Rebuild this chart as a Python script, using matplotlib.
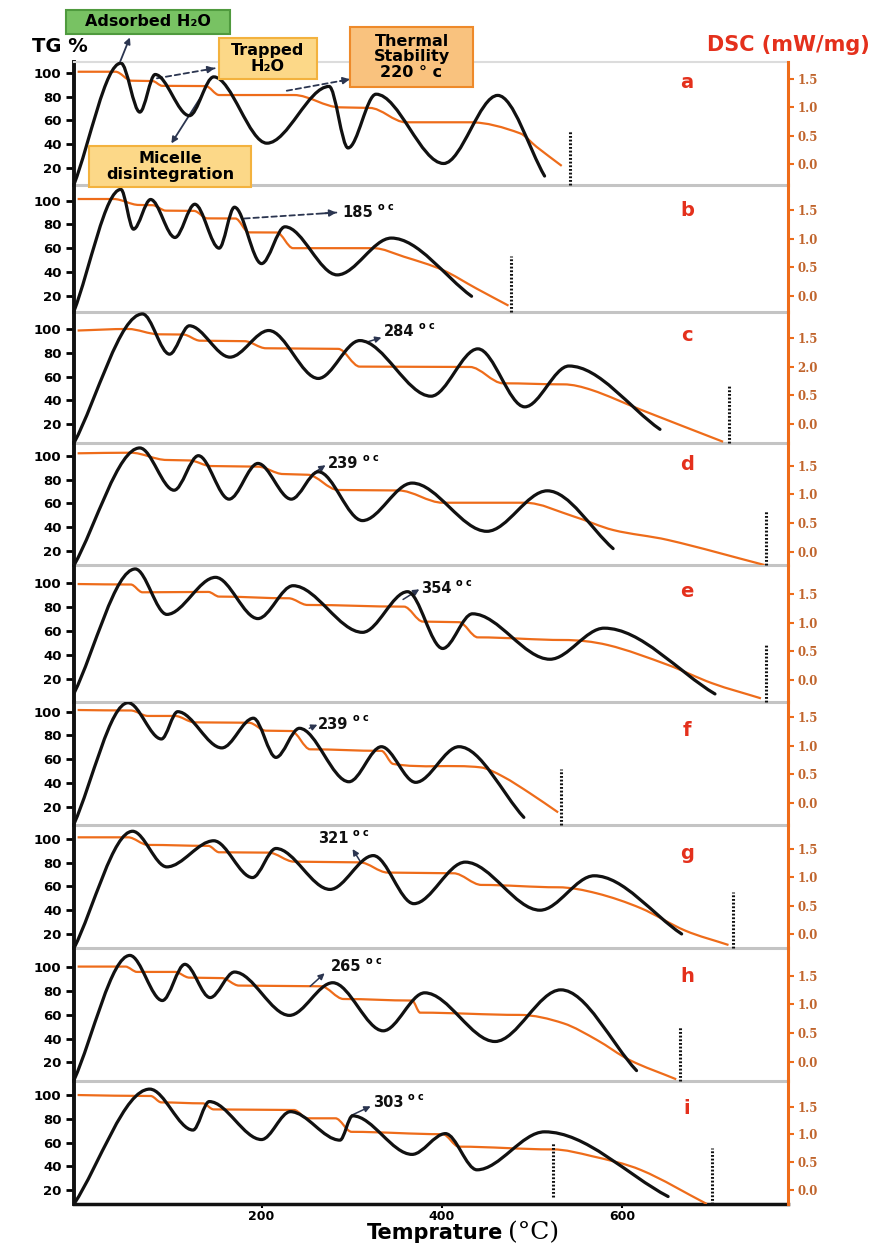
import matplotlib
matplotlib.use('Agg')
import matplotlib.pyplot as plt
from matplotlib.path import Path
from matplotlib.patches import PathPatch, Rectangle

# TG curves (black): temperature (°C) / TG (%) at start, peaks, troughs and end
tg_x_a = [-8, 44, 65, 82, 120, 147, 206, 275, 296, 327, 402, 462, 514]
tg_y_a = [6.5, 108, 67, 98.5, 64, 96.5, 41, 88.5, 37, 82, 24, 81, 13.5]
tg_x_b = [-8, 44, 58, 77, 104, 126, 153, 170, 200, 226, 284, 344, 433]
tg_y_b = [7, 109.5, 76, 101, 69, 97, 60, 94.5, 47, 78, 37.5, 68.5, 19.5]
tg_x_c = [-8, 68, 98, 120, 165, 208, 263, 309, 388, 440, 492, 541, 642]
tg_y_c = [4, 113, 79, 103, 76.5, 99, 58.5, 90.5, 43.5, 83.5, 34.5, 69, 15.5]
tg_x_d = [-8, 65, 103, 130, 164, 196, 233, 263, 312, 367, 450, 517, 590]
tg_y_d = [8, 106.5, 71, 100, 63.5, 93.5, 63.5, 86.5, 45.5, 77, 36.5, 70.5, 22]
tg_x_e = [-8, 60, 95, 149, 196, 235, 312, 362, 401, 434, 520, 580, 703]
tg_y_e = [8, 112, 74, 105, 70.5, 98, 59, 93, 45.5, 74.5, 36.5, 62.5, 7.5]
tg_x_f = [-8, 52, 89, 107, 156, 191, 216, 242, 297, 333, 371, 419, 491]
tg_y_f = [5.5, 107.5, 77, 100, 69.5, 94.5, 61.5, 86, 41, 70.5, 40.5, 70.5, 11]
tg_x_g = [-8, 57, 95, 147, 190, 216, 276, 324, 369, 426, 509, 569, 666]
tg_y_g = [8, 106.5, 76.5, 98.5, 67.5, 92, 57.5, 86, 45.5, 80.5, 40, 69, 20]
tg_x_h = [-8, 54, 90, 115, 143, 170, 231, 279, 335, 381, 459, 532, 616]
tg_y_h = [5, 110, 72, 102.5, 74.5, 96, 59.5, 87, 46.5, 78.5, 37.5, 81, 13]
tg_x_i = [-8, 76, 124, 142, 200, 232, 287, 301, 367, 404, 439, 514, 651]
tg_y_i = [8.2, 105, 70.5, 94.5, 62.5, 86, 62, 82.5, 50, 67.5, 37, 69, 14.5]

# DSC curves (orange), read on the TG scale of each panel
dsc_x_a = [-4, 38, 56, 79, 90, 138, 153, 236, 287, 320, 360, 431, 487, 505, 533]
dsc_y_a = [100.8, 100.8, 93.3, 93, 89, 88.8, 81.3, 81.3, 71, 70.5, 58.5, 58.5, 49.2, 38, 22]
dsc_x_b = [-4, 36, 64, 79, 94, 125, 140, 171, 186, 217, 235, 324, 358, 401, 438, 474]
dsc_y_b = [101.4, 101.4, 96.4, 96.2, 91.6, 91.4, 85.1, 85, 73.3, 73.2, 60, 60, 52.8, 41.6, 26.2, 11.6]
dsc_x_c = [-4, 52, 86, 113, 132, 181, 205, 285, 309, 431, 468, 535, 566, 621, 712]
dsc_y_c = [99, 100.3, 95.8, 95.6, 90.4, 90, 84, 83.5, 68.5, 68.2, 54.4, 53.5, 48.8, 32, 5]
dsc_x_d = [-4, 55, 95, 120, 144, 196, 224, 251, 285, 352, 401, 492, 547, 590, 651, 758]
dsc_y_d = [102, 102.5, 96.4, 96, 91.3, 90.8, 84.6, 84, 71.2, 70.8, 60.5, 60.5, 48.8, 37.6, 29.2, 8.2]
dsc_x_e = [-4, 55, 68, 141, 153, 230, 251, 358, 379, 419, 440, 535, 584, 651, 700, 754]
dsc_y_e = [99.4, 99, 92.5, 92.8, 88.9, 87.5, 81.9, 80.5, 68, 67.5, 54.8, 52.6, 48.4, 31.7, 16.4, 3.8]
dsc_x_f = [-4, 55, 74, 104, 126, 186, 205, 233, 254, 333, 346, 443, 468, 498, 529]
dsc_y_f = [101.4, 101, 96.4, 96.4, 91, 90.7, 84, 83.7, 68.3, 67, 56, 53.1, 45.3, 31.2, 15.2]
dsc_x_g = [-4, 52, 74, 141, 153, 208, 236, 309, 340, 413, 444, 529, 572, 621, 670, 718]
dsc_y_g = [101.4, 101.4, 95, 94.2, 88.8, 88.5, 80.9, 80.3, 71.7, 71.1, 61.3, 59.3, 54.2, 41.6, 22.8, 10.7]
dsc_x_h = [-4, 49, 62, 104, 120, 156, 175, 266, 291, 367, 376, 486, 535, 572, 608, 660]
dsc_y_h = [100.6, 100.6, 96.1, 96.1, 91.3, 90.9, 84.6, 84, 73.3, 72, 61.8, 59.9, 52.8, 38.8, 22, 5.7]
dsc_x_i = [-4, 77, 89, 135, 147, 236, 251, 282, 300, 401, 419, 523, 566, 621, 694]
dsc_y_i = [100, 99.2, 93.8, 93, 87.9, 87.4, 80.4, 80.4, 69, 67, 56.5, 54.2, 48.6, 36.8, 8.2]

letters = ['a', 'b', 'c', 'd', 'e', 'f', 'g', 'h', 'i']
letter_y = [92, 92, 94.4, 92.2, 93, 84, 88, 92, 88.8]
left_ticks = [100, 80, 60, 40, 20]
dsc_labels = ['1.5', '1.0', '0.5', '0.0']
dsc_labels_c = ['1.5', '2.0', '0.5', '0.0']
x_ticks = [200, 400, 600]

# dotted verticals
dotted_panel = [0, 1, 2, 3, 4, 5, 6, 7, 8, 8]
dotted_x = [542, 477, 718, 760, 760, 532, 723, 664, 523, 700]
dotted_lo = [6, 6.5, 3.7, 7.8, 1, 5, 7.9, 4.4, 14.5, 8.2]
dotted_hi = [52, 53, 53, 54, 48, 52, 55.5, 50, 60.5, 55]

# temperature notes
note_panel = [1, 2, 3, 4, 5, 6, 7, 8]
note_text = ['185', '284', '239', '354', '239', '321', '265', '303']
note_x = [290, 336, 274, 377, 263, 263, 277, 324]
note_y = [90, 98, 93.6, 95.8, 89.6, 100.5, 100.6, 93.5]
note_x0 = [181, 318, 259, 357, 253, 310, 254, 300]
note_y0 = [85, 89.5, 86, 86.5, 86, 80.5, 84, 83]
note_x1 = [283, 333, 271, 375, 262, 301, 270, 321]
note_y1 = [90, 93, 92, 95, 89, 91.5, 95, 90.5]

tg_x = [tg_x_a, tg_x_b, tg_x_c, tg_x_d, tg_x_e, tg_x_f, tg_x_g, tg_x_h, tg_x_i]
tg_y = [tg_y_a, tg_y_b, tg_y_c, tg_y_d, tg_y_e, tg_y_f, tg_y_g, tg_y_h, tg_y_i]
dsc_x = [dsc_x_a, dsc_x_b, dsc_x_c, dsc_x_d, dsc_x_e, dsc_x_f, dsc_x_g, dsc_x_h, dsc_x_i]
dsc_y = [dsc_y_a, dsc_y_b, dsc_y_c, dsc_y_d, dsc_y_e, dsc_y_f, dsc_y_g, dsc_y_h, dsc_y_i]

# layout (pixels of the 872x1243 picture)
W, H = 872, 1243
edges = [61.7, 185, 311.7, 443.3, 565.5, 701.7, 824.5, 948.3, 1080.8, 1204]
ylims = [(6.0, 109.2), (6.5, 113.2), (3.7, 114.9), (7.8, 110.4), (1.0, 114.9),
         (5.0, 108.4), (7.9, 112.2), (4.4, 116), (8.2, 112)]
dsc_span = [(94.5, 23.6), (92.2, 20), (92.4, 20), (91.6, 19.4), (90.8, 19.2),
            (95.8, 22.8), (91.6, 20), (92.7, 20.6), (90.2, 20)]
X0, X1 = 74, 788
XLIM = (-8, 784)

BLACK = '#111111'
ORANGE = '#ee6c1a'
RED = '#e4301c'
ARROW = '#2b3550'
FONT = 'DejaVu Sans'


def smooth_path(xs, ys):
    n = len(xs)
    slopes = []
    for i in range(n):
        if i == 0:
            m = (ys[1] - ys[0]) / (xs[1] - xs[0])
        elif i == n - 1:
            m = (ys[-1] - ys[-2]) / (xs[-1] - xs[-2])
        else:
            d0 = ys[i] - ys[i - 1]
            d1 = ys[i + 1] - ys[i]
            if d0 * d1 <= 0 or abs(d0) < 2.5 or abs(d1) < 2.5:
                m = 0.0
            else:
                m = (ys[i + 1] - ys[i - 1]) / (xs[i + 1] - xs[i - 1])
        slopes.append(m)
    verts = [(xs[0], ys[0])]
    codes = [Path.MOVETO]
    for i in range(n - 1):
        h = (xs[i + 1] - xs[i]) / 3.0
        verts += [(xs[i] + h, ys[i] + slopes[i] * h),
                  (xs[i + 1] - h, ys[i + 1] - slopes[i + 1] * h),
                  (xs[i + 1], ys[i + 1])]
        codes += [Path.CURVE4] * 3
    return Path(verts, codes)


def arrow(ax, x0, y0, x1, y1, dashed=False, lw=1.3):
    if dashed:
        ax.annotate('', xy=(x1, y1), xytext=(x0, y0), annotation_clip=False,
                    arrowprops=dict(arrowstyle='-', color=ARROW, lw=lw, ls=(0, (3, 2)),
                                    shrinkA=0, shrinkB=0))
        xm = x1 - 0.15 * (x1 - x0)
        ym = y1 - 0.15 * (y1 - y0)
        ax.annotate('', xy=(x1, y1), xytext=(xm, ym), annotation_clip=False,
                    arrowprops=dict(arrowstyle='-|>', color=ARROW, lw=lw, mutation_scale=10,
                                    shrinkA=0, shrinkB=0))
    else:
        ax.annotate('', xy=(x1, y1), xytext=(x0, y0), annotation_clip=False,
                    arrowprops=dict(arrowstyle='-|>', color=ARROW, lw=lw, mutation_scale=9,
                                    shrinkA=0, shrinkB=0))


fig = plt.figure(figsize=(W / 100, H / 100), dpi=100)
axes = []
for k in range(9):
    top, bot = edges[k], edges[k + 1]
    ax = fig.add_axes([X0 / W, 1 - bot / H, (X1 - X0) / W, (bot - top) / H])
    ax.set_xlim(*XLIM)
    ax.set_ylim(*ylims[k])
    ax.patch.set_alpha(0)
    for s in ['top', 'right', 'bottom']:
        ax.spines[s].set_visible(False)
    ax.spines['left'].set_linewidth(2.8)
    ax.spines['left'].set_color(BLACK)
    if k == 8:
        ax.spines['bottom'].set_visible(True)
        ax.spines['bottom'].set_linewidth(2.5)
        ax.spines['bottom'].set_color(BLACK)
        ax.set_xticks(x_ticks)
        ax.set_xticklabels([str(t) for t in x_ticks], fontsize=9, fontweight='bold',
                           family=FONT)
        ax.tick_params(axis='x', length=3, width=1.5, direction='out', pad=1.5)
    else:
        ax.spines['bottom'].set_visible(True)
        ax.spines['bottom'].set_linewidth(2.2)
        ax.spines['bottom'].set_color('#c4c4c4')
        ax.set_xticks([])
    if k == 0:
        ax.spines['top'].set_visible(True)
        ax.spines['top'].set_color('#dcdcdc')
        ax.spines['top'].set_linewidth(1.5)
    ax.set_yticks(left_ticks)
    ax.set_yticklabels([str(t) for t in left_ticks], fontsize=9.5, fontweight='bold',
                       family=FONT)
    ax.tick_params(axis='y', length=6, width=2, direction='out', pad=3)

    ax2 = ax.twinx()
    ax2.set_ylim(*ylims[k])
    for s in ['top', 'left', 'bottom']:
        ax2.spines[s].set_visible(False)
    ax2.spines['right'].set_color(ORANGE)
    ax2.spines['right'].set_linewidth(2.2)
    hi, lo = dsc_span[k]
    ax2.set_yticks([hi + (lo - hi) * j / 3 for j in range(4)])
    ax2.set_yticklabels(dsc_labels_c if k == 2 else dsc_labels, fontsize=8.5,
                        fontweight='bold', family='DejaVu Serif', color='#c0642c')
    ax2.tick_params(axis='y', length=4, width=1.5, color=ORANGE, direction='out', pad=3)

    ax.add_patch(PathPatch(smooth_path(dsc_x[k], dsc_y[k]), fill=False, edgecolor=ORANGE,
                           lw=1.6, zorder=3))
    ax.add_patch(PathPatch(smooth_path(tg_x[k], tg_y[k]), fill=False, edgecolor=BLACK,
                           lw=2.3, zorder=4, capstyle='round', joinstyle='round'))
    ax.text(672, letter_y[k], letters[k], color=RED, fontsize=14, fontweight='bold',
            family=FONT, ha='center', va='center')
    axes.append(ax)

for p, x, lo, hi in zip(dotted_panel, dotted_x, dotted_lo, dotted_hi):
    axes[p].plot([x, x], [lo, hi], color=BLACK, lw=2.2, ls=(0, (0.6, 0.6)), zorder=5,
                 clip_on=False)

for p, t, x, y, x0, y0, x1, y1 in zip(note_panel, note_text, note_x, note_y,
                                      note_x0, note_y0, note_x1, note_y1):
    ax = axes[p]
    arrow(ax, x0, y0, x1, y1, dashed=(p == 1), lw=1.3 if p == 1 else 1.1)
    txt = ax.text(x, y, t, fontsize=10.5, fontweight='bold', family=FONT, va='center',
                  ha='left', color=BLACK, zorder=6)
    ax.annotate('o c', xy=(1, 0.55), xycoords=txt, xytext=(3, 0),
                textcoords='offset points', fontsize=7, fontweight='bold', family=FONT,
                va='bottom', ha='left')

# panel a call-outs
ax = axes[0]
arrow(ax, 42, 107, 54, 129.5)
arrow(ax, 84, 95.3, 148, 103.7, dashed=True)
arrow(ax, 228, 84.9, 298, 94.5, dashed=True)
arrow(ax, 134, 81.2, 100, 40.8)


def box(x0, y0, x1, y1, text, face, edge, size=11.5):
    fig.patches.append(Rectangle((x0 / W, 1 - y1 / H), (x1 - x0) / W, (y1 - y0) / H,
                                 transform=fig.transFigure, facecolor=face,
                                 edgecolor=edge, lw=1.5, zorder=5))
    fig.text((x0 + x1) / 2 / W, 1 - (y0 + y1) / 2 / H, text, ha='center', va='center',
             fontsize=size, fontweight='bold', family=FONT, linespacing=1.05, zorder=6)


box(66, 10, 230, 34, 'Adsorbed H₂O', '#78c263', '#4f9a3e', 11.5)
box(219, 38, 317, 79, 'Trapped\nH₂O', '#fcd888', '#f3b23e', 11.5)
box(350, 27, 473, 87, 'Thermal\nStability\n220 ° c', '#f9c27e', '#ee8a2a', 11.5)
box(89, 146, 251, 187, 'Micelle\ndisintegration', '#fcd888', '#f3b23e', 11.5)

fig.text(32 / W, 1 - 47 / H, 'TG %', fontsize=14, fontweight='bold', family=FONT,
         va='center', ha='left')
fig.text(870 / W, 1 - 45 / H, 'DSC (mW/mg)', fontsize=15, fontweight='bold', family=FONT,
         va='center', ha='right', color=RED)
fig.text(503 / W, 1 - 1233 / H, 'Temprature', fontsize=15, fontweight='bold', family=FONT,
         va='center', ha='right')
fig.text(508 / W, 1 - 1233 / H, '(°C)', fontsize=18, family='DejaVu Serif',
         va='center', ha='left')

fig.savefig('out.png', dpi=100)
